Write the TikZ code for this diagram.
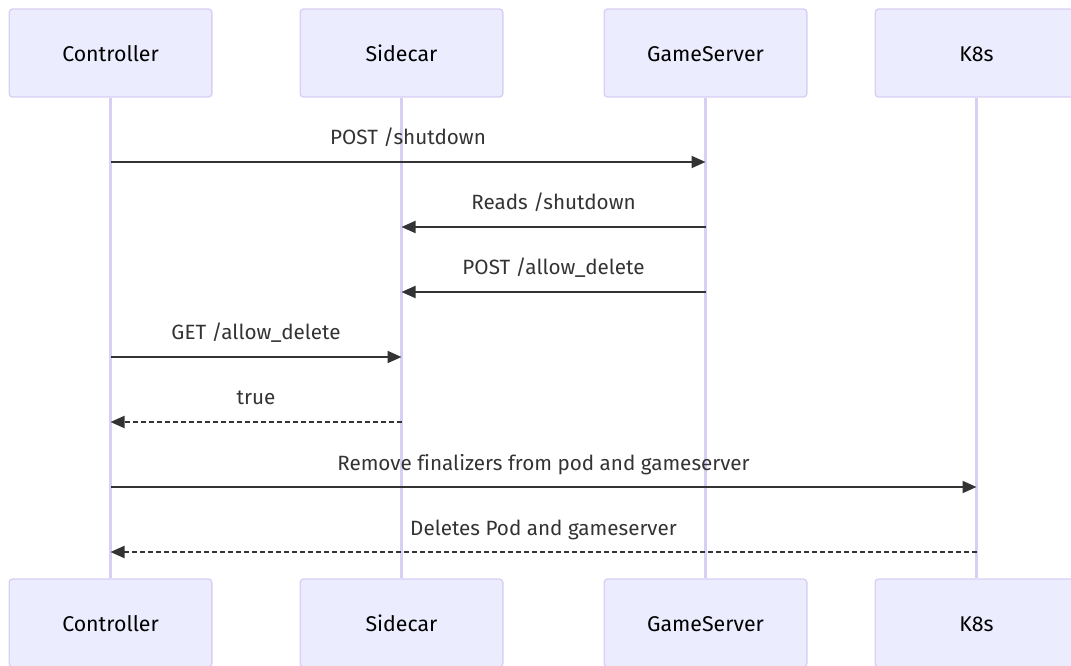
\documentclass[tikz,border=0pt]{standalone}
\usepackage{fontspec}
\setmainfont[Ligatures=NoCommon]{Fira Sans}
\usetikzlibrary{arrows.meta,calc}
\definecolor{actorfill}{HTML}{ECECFF}
\definecolor{actorline}{HTML}{D9CEF4}
\definecolor{msgcol}{HTML}{333333}

\begin{document}
\begin{tikzpicture}[
  x=0.75pt, y=-0.75pt,
  actor/.style={draw=actorline, fill=actorfill, line width=1pt, rounded corners=2.5pt,
                minimum width=152pt, minimum height=66pt, text height=14pt, text depth=1pt,
                font=\fontsize{16}{19}\selectfont},
  life/.style={draw=actorline, line width=1.6pt},
  msg/.style={draw=msgcol, line width=1.5pt, -{Triangle[length=10.5pt,width=9pt]}},
  reply/.style={msg, dash pattern=on 3.5pt off 2.5pt},
  lbl/.style={text=msgcol, font=\fontsize{15.5}{18}\selectfont, inner sep=0pt,
              anchor=base, yshift=12.75pt},
]
  \useasboundingbox (0,0) rectangle (1071,666);

  % participants, top and bottom
  \node[actor] (ctlT) at (110.5,53) {Controller};
  \node[actor] (sideT) at (401.5,53) {Sidecar};
  \node[actor] (gsT) at (705.5,53) {GameServer};
  \node[actor] (k8sT) at (976.5,53) {K8s};
  \node[actor] (ctlB) at (110.5,623) {Controller};
  \node[actor] (sideB) at (401.5,623) {Sidecar};
  \node[actor] (gsB) at (705.5,623) {GameServer};
  \node[actor] (k8sB) at (976.5,623) {K8s};

  % lifelines
  \foreach \p in {ctl,side,gs,k8s}
    \draw[life] (\p T.south) -- (\p B.north);

  % messages
  \draw[msg] (ctlT |- 0,162) -- (gsT |- 0,162)
    node[lbl, midway] {POST /shutdown};
  \draw[msg] (gsT |- 0,227) -- (sideT |- 0,227)
    node[lbl, midway] {Reads /shutdown};
  \draw[msg] (gsT |- 0,292) -- (sideT |- 0,292)
    node[lbl, midway] {POST /allow\_delete};
  \draw[msg] (ctlT |- 0,357) -- (sideT |- 0,357)
    node[lbl, midway] {GET /allow\_delete};
  \draw[reply] (sideT |- 0,422) -- (ctlT |- 0,422)
    node[lbl, midway] {true};
  \draw[msg] (ctlT |- 0,487) -- (k8sT |- 0,487)
    node[lbl, midway] {Remove finalizers from pod and gameserver};
  \draw[reply] (k8sT |- 0,552) -- (ctlT |- 0,552)
    node[lbl, midway] {Deletes Pod and gameserver};
\end{tikzpicture}
\end{document}
